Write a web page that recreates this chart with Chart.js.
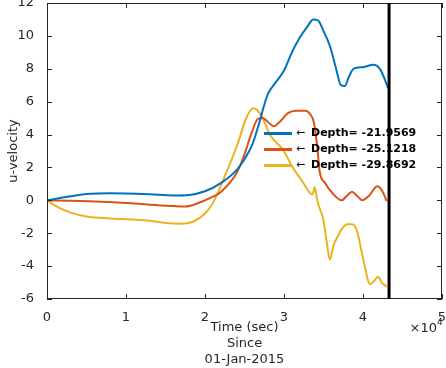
<!DOCTYPE html>
<html>
<head>
<meta charset="utf-8">
<script src="https://cdn.jsdelivr.net/npm/chart.js@4/dist/chart.umd.min.js"></script>
<style>
html,body{margin:0;padding:0;background:#fff;}
#wrap{width:446px;height:368px;position:relative;}
</style>
</head>
<body>
<div id="wrap"><canvas id="c" width="446" height="368"></canvas></div>
<script>
// ---- data (time in seconds since 01-Jan-2015, u-velocity) ----
const seriesNames = ['Depth= -21.9569', 'Depth= -25.1218', 'Depth= -29.8692'];
const seriesColors = ['#0072BD', '#D95319', '#EDB120'];

const blueT = [0,3000,5000,8000,10000,13000,16000,18000,20000,22000,24000,25000,26000,26800,27500,28000,29000,30000,31000,32000,33000,33700,34300,35000,35800,36600,37200,37700,38200,38800,40000,41300,42200,43200];
const blueU = [0,0.25,0.38,0.43,0.42,0.37,0.30,0.33,0.55,1.05,1.84,2.5,3.4,4.6,5.8,6.5,7.2,7.9,9.0,9.9,10.6,11.0,10.95,10.3,9.4,8.0,7.0,6.95,7.5,8.0,8.1,8.25,7.95,6.8];

const redT = [0,3000,7600,12000,16000,17500,19500,21000,22000,24000,25000,25900,26700,27300,28000,28700,29500,30500,31500,32700,33300,33800,34200,34500,35200,36200,37300,38000,38600,39300,39900,40800,41800,42400,43000];
const redU = [0,-0.02,-0.1,-0.22,-0.35,-0.38,-0.1,0.22,0.5,1.66,2.8,4.1,4.95,5.0,4.75,4.5,4.8,5.3,5.45,5.45,5.25,4.7,3.3,1.8,1.05,0.4,0.0,0.3,0.52,0.25,0.0,0.3,0.85,0.6,-0.05];

const yellowT = [0,1500,3000,5000,8000,11000,13000,15000,17000,18500,20000,21000,22300,24000,25300,26100,26600,27200,28200,29900,31100,32400,33300,33600,33900,34200,34600,34900,35400,35800,36300,36800,37300,38000,38600,39200,40000,40900,41400,41900,42400,43000];
const yellowU = [0,-0.45,-0.75,-0.98,-1.1,-1.17,-1.24,-1.38,-1.42,-1.3,-0.8,-0.17,1.23,3.26,5.08,5.6,5.5,5.1,4.0,3.06,2.0,1.1,0.44,0.35,0.8,0.0,-0.6,-1.0,-2.5,-3.6,-2.7,-2.2,-1.75,-1.45,-1.45,-1.8,-3.5,-5.1,-4.9,-4.65,-5.0,-5.25];

const xTicks = [0,10000,20000,30000,40000,50000];
const yTicks = [-6,-4,-2,0,2,4,6,8,10,12];
const markerTime = 43300;   // vertical marker line (s)

const xTitleLines = ['Time (sec)', 'Since', '01-Jan-2015'];
const yTitle = 'u-velocity';

const AX = '#262626';
const FONT = 'DejaVu Sans';

function pts(t, u){ return t.map((v,i)=>({x:v, y:u[i]})); }

const frame = {
  id:'frame',
  afterDatasetsDraw(chart){
    const ctx = chart.ctx, a = chart.chartArea, xs = chart.scales.x, ys = chart.scales.y;
    ctx.save();
    // box
    ctx.strokeStyle = AX; ctx.lineWidth = 1;
    ctx.strokeRect(a.left+0.5, a.top+0.5, a.right-a.left-1, a.bottom-a.top-1);
    // inward ticks
    const L = 5;
    ctx.beginPath();
    xTicks.forEach(v=>{
      const p = Math.round(xs.getPixelForValue(v))+0.5;
      ctx.moveTo(p, a.bottom); ctx.lineTo(p, a.bottom-L);
      ctx.moveTo(p, a.top); ctx.lineTo(p, a.top+L);
    });
    yTicks.forEach(v=>{
      const p = Math.round(ys.getPixelForValue(v))+0.5;
      ctx.moveTo(a.left, p); ctx.lineTo(a.left+L, p);
      ctx.moveTo(a.right, p); ctx.lineTo(a.right-L, p);
    });
    ctx.stroke();

    // legend
    const lx0 = 264, lx1 = 292, ly0 = 133.5, dy = 16;
    seriesNames.forEach((name,i)=>{
      const y = ly0 + i*dy;
      ctx.strokeStyle = seriesColors[i]; ctx.lineWidth = 3;
      ctx.beginPath(); ctx.moveTo(lx0, y); ctx.lineTo(lx1, y); ctx.stroke();
      ctx.fillStyle = '#000'; ctx.textBaseline = 'middle'; ctx.textAlign = 'left';
      ctx.font = '11px ' + FONT;
      ctx.fillText('\u2190', 296, y);
      ctx.font = 'bold 11px ' + FONT;
      ctx.fillText(name, 311, y);
    });

    // vertical marker
    const mx = xs.getPixelForValue(markerTime);
    ctx.strokeStyle = '#000'; ctx.lineWidth = 3;
    ctx.beginPath(); ctx.moveTo(mx, a.top); ctx.lineTo(mx, a.bottom); ctx.stroke();

    // axis titles
    ctx.fillStyle = AX; ctx.textAlign = 'center'; ctx.textBaseline = 'middle';
    ctx.font = '13px ' + FONT;
    const cx = (a.left + a.right)/2;
    xTitleLines.forEach((s,i)=> ctx.fillText(s, cx, 328 + i*16));
    ctx.save();
    ctx.translate(14, (a.top+a.bottom)/2);
    ctx.rotate(-Math.PI/2);
    ctx.fillText(yTitle, 0, 0);
    ctx.restore();
    // exponent
    ctx.textAlign = 'right';
    ctx.font = '13px ' + FONT;
    ctx.fillText('\u00d710', 437, 329);
    ctx.textAlign = 'left';
    ctx.font = '9px ' + FONT;
    ctx.fillText('4', 437, 323);
    ctx.restore();
  }
};

new Chart(document.getElementById('c'), {
  type:'line',
  data:{
    datasets:[
      {label:seriesNames[0], data:pts(blueT, blueU), borderColor:seriesColors[0]},
      {label:seriesNames[1], data:pts(redT, redU), borderColor:seriesColors[1]},
      {label:seriesNames[2], data:pts(yellowT, yellowU), borderColor:seriesColors[2]}
    ]
  },
  options:{
    responsive:false,
    animation:false,
    parsing:false,
    layout:{padding:{left:0,right:4,top:3,bottom:0}},
    elements:{
      line:{borderWidth:2, tension:0.4, cubicInterpolationMode:'monotone'},
      point:{radius:0}
    },
    plugins:{legend:{display:false}, tooltip:{enabled:false}},
    scales:{
      x:{
        type:'linear', min:0, max:50000,
        afterBuildTicks(s){ s.ticks = xTicks.map(v=>({value:v})); },
        ticks:{callback:v=>String(v/10000), color:AX, font:{family:FONT,size:13}, padding:3, maxRotation:0},
        grid:{display:false},
        border:{display:false},
        afterFit(s){ s.height = 69; s.paddingLeft = 0; s.paddingRight = 0; }
      },
      y:{
        type:'linear', min:-6, max:12,
        afterBuildTicks(s){ s.ticks = yTicks.map(v=>({value:v})); },
        ticks:{color:AX, font:{family:FONT,size:13}, padding:5},
        grid:{display:false},
        border:{display:false},
        afterFit(s){ s.width = 47; s.paddingTop = 0; s.paddingBottom = 0; }
      }
    }
  },
  plugins:[frame]
});
</script>
</body>
</html>
